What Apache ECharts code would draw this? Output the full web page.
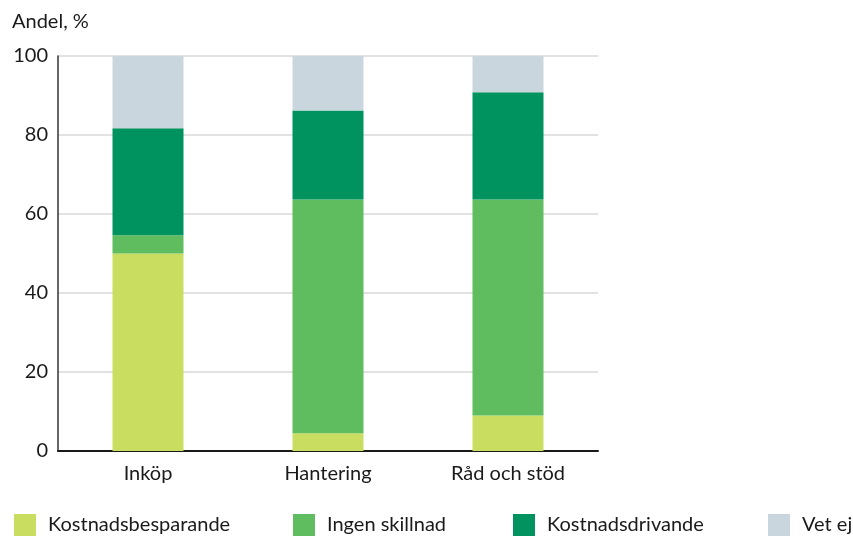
<!DOCTYPE html>
<html>
<head>
<meta charset="utf-8">
<script src="https://cdn.jsdelivr.net/npm/echarts@6/dist/echarts.min.js"></script>
<style>
  html, body { margin: 0; padding: 0; background: #fff; }
  #chart { width: 853px; height: 537px; }
</style>
</head>
<body>
<div id="chart"></div>
<script>
// Kategorier och andelar (%) per svarsalternativ
const categories = ['Inköp', 'Hantering', 'Råd och stöd'];
const kostnadsbesparande = [50.0, 4.5, 9.0];
const ingenSkillnad = [4.6, 59.2, 54.7];
const kostnadsdrivande = [27.1, 22.5, 27.1];
const vetEj = [18.3, 13.8, 9.2];
const yTicks = [0, 20, 40, 60, 80, 100];

const seriesNames = ['Kostnadsbesparande', 'Ingen skillnad', 'Kostnadsdrivande', 'Vet ej'];
const seriesData = [kostnadsbesparande, ingenSkillnad, kostnadsdrivande, vetEj];
const colors = ['#c9dd61', '#5fbd5f', '#00935f', '#c9d6de'];
const legendLeft = [14, 293, 513, 768];

const FONT = 'Lato';

const chart = echarts.init(document.getElementById('chart'), null, { renderer: 'canvas' });

chart.setOption({
  animation: false,
  backgroundColor: '#ffffff',
  title: {
    text: 'Andel, %',
    left: 12,
    top: 12,
    padding: 0,
    textStyle: { fontFamily: FONT, fontSize: 20, fontWeight: 'normal', color: '#1a1a1a' }
  },
  legend: seriesNames.map((name, i) => ({
    data: [name],
    left: legendLeft[i],
    top: 514,
    padding: 0,
    itemWidth: 22,
    itemHeight: 22,
    icon: 'rect',
    selectedMode: false,
    textStyle: { fontFamily: FONT, fontSize: 20, color: '#1a1a1a', padding: [0, 0, 0, 7] }
  })),
  grid: { left: 58, right: 255, top: 56, bottom: 86, containLabel: false },
  xAxis: {
    type: 'category',
    data: categories,
    axisLine: { show: true, lineStyle: { color: '#1a1a1a', width: 2 } },
    axisTick: { show: false },
    axisLabel: { fontFamily: FONT, fontSize: 20, color: '#1a1a1a', margin: 13 }
  },
  yAxis: {
    type: 'value',
    min: yTicks[0],
    max: yTicks[yTicks.length - 1],
    interval: yTicks[1] - yTicks[0],
    axisLine: { show: true, lineStyle: { color: '#333333', width: 1.5 } },
    axisTick: { show: false },
    axisLabel: { fontFamily: FONT, fontSize: 20, color: '#1a1a1a', margin: 10 },
    splitLine: { show: true, lineStyle: { color: '#d9d9d9', width: 1.5 } }
  },
  series: seriesNames.map((name, i) => ({
    name: name,
    type: 'bar',
    stack: 'total',
    data: seriesData[i],
    barWidth: 71,
    itemStyle: { color: colors[i] },
    emphasis: { disabled: true }
  }))
});
</script>
</body>
</html>
